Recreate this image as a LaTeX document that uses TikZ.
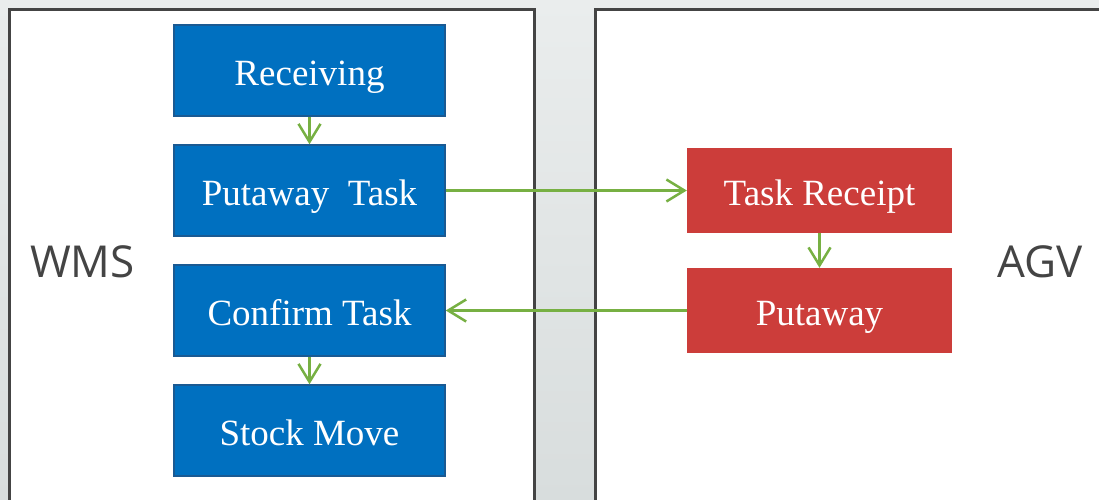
\documentclass[tikz,border=0pt]{standalone}
\usepackage{fontspec}
\setmainfont{Liberation Serif}
\newfontfamily\sidefont{Open Sans}
\usetikzlibrary{arrows.meta,positioning}
\definecolor{wmsblue}{HTML}{0070C0}
\definecolor{wmsedge}{HTML}{1A5A93}
\definecolor{agvred}{HTML}{CC3D3A}
\definecolor{flowgreen}{HTML}{77B043}
\definecolor{panelgray}{HTML}{444444}
\definecolor{bgtop}{HTML}{EAEDED}
\definecolor{bgbottom}{HTML}{D8DDDD}
\tikzstyle{wmsbox}    = [draw=wmsedge, fill=wmsblue, line width=1.5pt, minimum width=271pt, minimum height=91pt, text=white, text height=30pt, text depth=0pt, font=\fontsize{37}{40}\selectfont]
\tikzstyle{agvbox}    = [fill=agvred, minimum width=265pt, minimum height=85pt, text=white, text height=30pt, text depth=0pt, font=\fontsize{37}{40}\selectfont]
\tikzstyle{line}      = [draw=flowgreen, line width=2.5pt, -{Straight Barb[length=18pt, width=22pt]}]
\tikzstyle{panel}     = [draw=panelgray, line width=3pt, fill=white]
\tikzstyle{sidelabel} = [text=panelgray, font=\sidefont\fontsize{44}{48}\selectfont]

\begin{document}
\begin{tikzpicture}[auto, x=1pt, y=1pt, node distance=120pt]
	% Background and panels %
	\fill [top color=bgtop, bottom color=bgbottom] (-309.5,70.5) rectangle (789.5,-429.5);
	\useasboundingbox (-309.5,70.5) rectangle (789.5,-429.5);
	\begin{scope}
	\clip (-309.5,70.5) rectangle (789.5,-429.5);
	\path [panel] (-299.5,60.5) rectangle (224.5,-460);
	\path [panel] (285.5,60.5) rectangle (820,-460);
	\end{scope}
	% Node Setting %
	\node [wmsbox] (recv) {Receiving};
	\node [wmsbox, below of = recv] (ptask) {Putaway\ \ Task};
	\node [wmsbox, below of = ptask] (confirm) {Confirm Task};
	\node [wmsbox, below of = confirm] (stock) {Stock Move};
	\node [agvbox, right of = ptask, xshift=390pt] (treceipt) {Task Receipt};
	\node [agvbox, below of = treceipt] (putaway) {Putaway};
	\node [sidelabel] (wms) at (-227,-191.5) {WMS};
	\node [sidelabel] (agv) at (731,-191.5) {AGV};
	% Connection %
	\path [line] (recv) -- (ptask);
	\path [line] (ptask) -- (treceipt);
	\path [line] (treceipt) -- (putaway);
	\path [line] (putaway) -- (confirm);
	\path [line] (confirm) -- (stock);
\end{tikzpicture}
\end{document}
